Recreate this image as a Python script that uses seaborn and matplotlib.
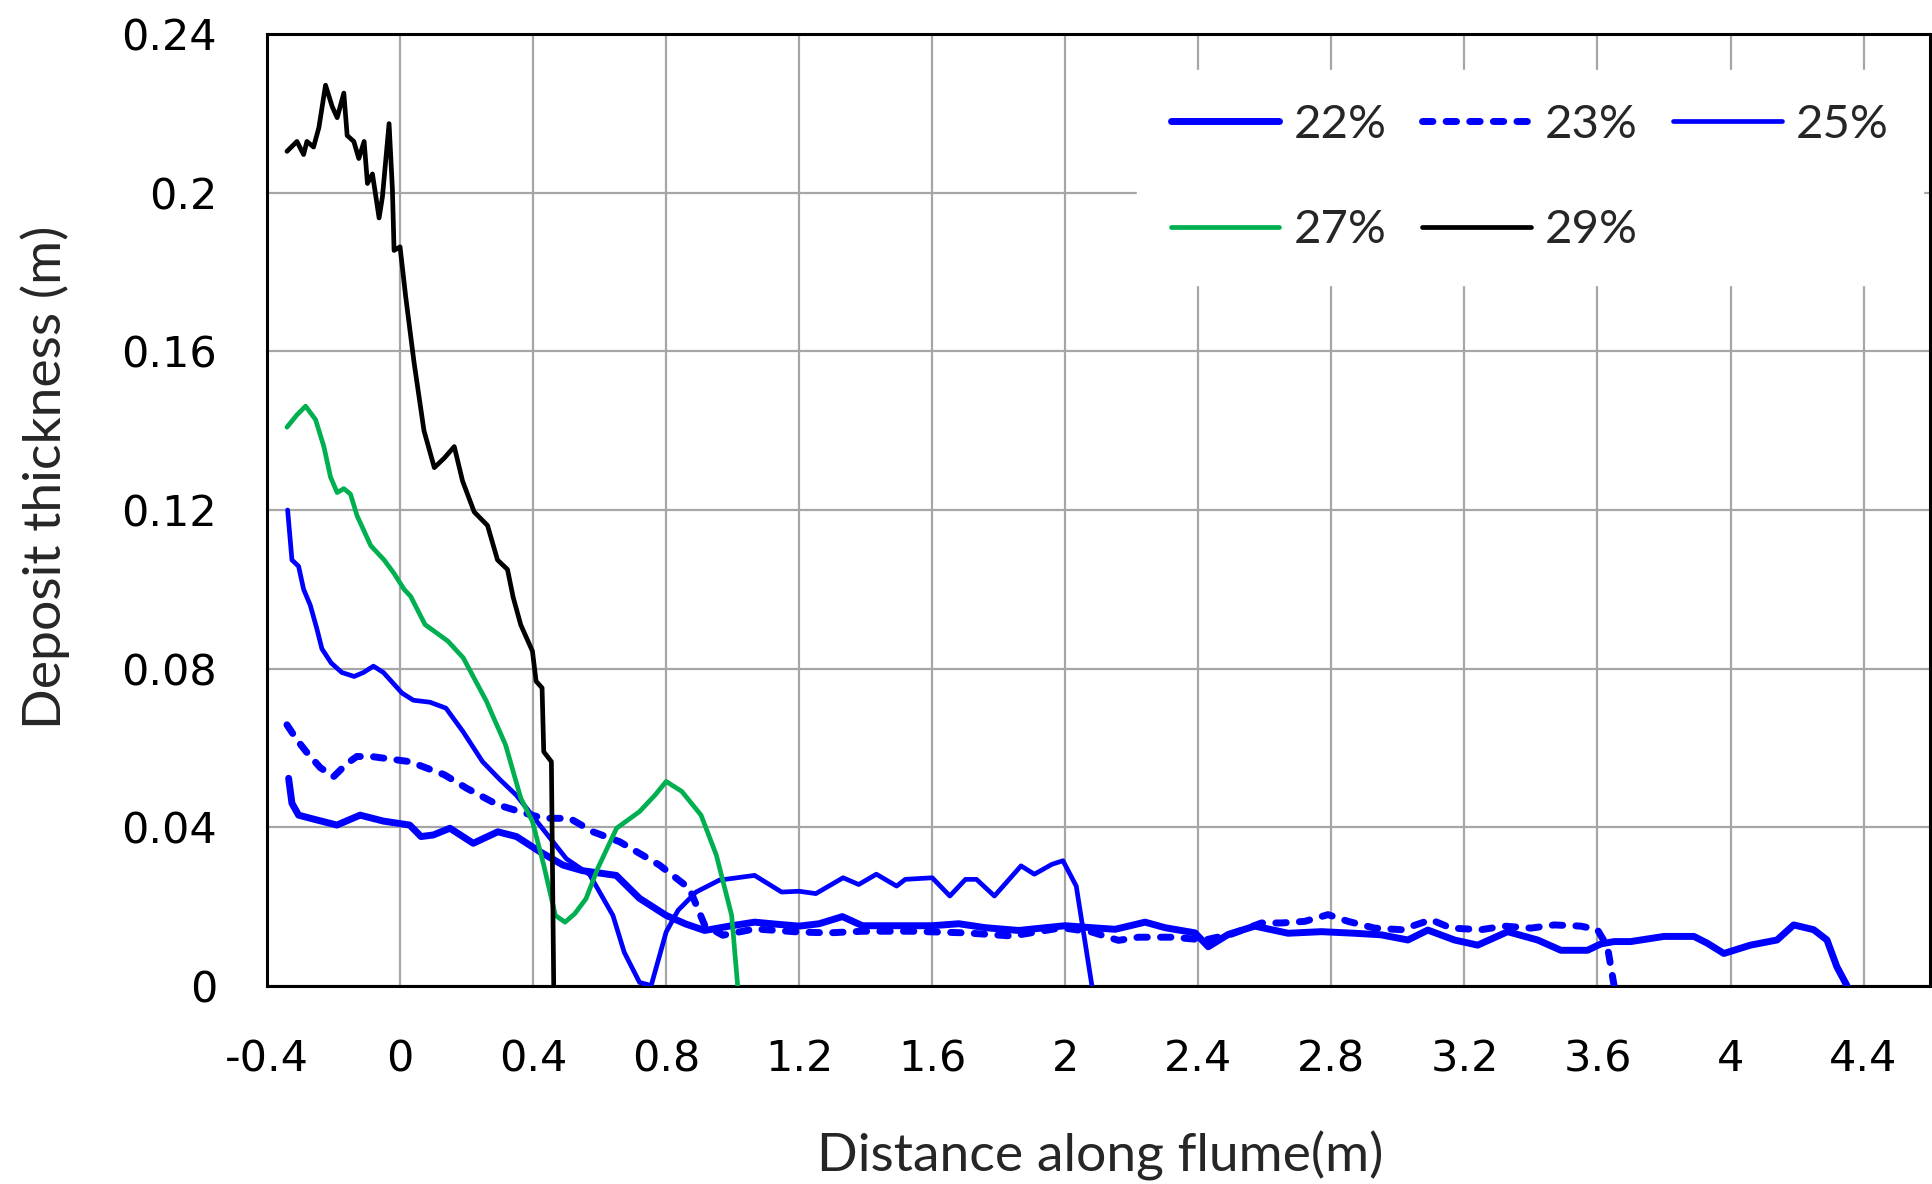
import matplotlib
matplotlib.use("Agg")
import matplotlib.pyplot as plt
import seaborn as sns
import pandas as pd

# ---------------- data ----------------
x22 = [-0.335, -0.325, -0.305, -0.26, -0.19, -0.12, -0.05, 0.029, 0.063, 0.10, 0.15, 0.22, 0.294, 0.35,
       0.42, 0.49, 0.548, 0.65, 0.72, 0.80, 0.86, 0.916, 0.99, 1.066, 1.13, 1.2, 1.26, 1.33, 1.39, 1.47,
       1.6, 1.68, 1.76, 1.86, 1.94, 2.0, 2.08, 2.15, 2.24, 2.3, 2.39, 2.43, 2.49, 2.57, 2.67, 2.77, 2.87,
       2.95, 3.03, 3.09, 3.17, 3.24, 3.33, 3.42, 3.49, 3.57, 3.61, 3.65, 3.7, 3.8, 3.89, 3.93, 3.98, 4.06,
       4.14, 4.19, 4.25, 4.29, 4.32, 4.35]
y22 = [0.0523, 0.046, 0.043, 0.042, 0.0405, 0.043, 0.0415, 0.0405, 0.0376, 0.038, 0.0397, 0.0359, 0.0388,
       0.0376, 0.0338, 0.0304, 0.029, 0.0278, 0.022, 0.0177, 0.0155, 0.0139, 0.015, 0.016, 0.0155, 0.015,
       0.0156, 0.0174, 0.0151, 0.0151, 0.0151, 0.0156, 0.0146, 0.0139, 0.0146, 0.0151, 0.0146, 0.0142,
       0.016, 0.0146, 0.0133, 0.0098, 0.0129, 0.0150, 0.0132, 0.0136, 0.0132, 0.0128, 0.0115, 0.0140,
       0.0115, 0.0102, 0.0136, 0.0115, 0.0089, 0.0089, 0.0105, 0.0111, 0.0111, 0.0124, 0.0124, 0.0107,
       0.0081, 0.0102, 0.0115, 0.0153, 0.0141, 0.0115, 0.0047, 0.0]

x23 = [-0.34, -0.31, -0.282, -0.24, -0.2, -0.16, -0.13, -0.086, 0.029, 0.133, 0.2, 0.294, 0.36, 0.43,
       0.51, 0.58, 0.66, 0.78, 0.87, 0.916, 0.97, 1.066, 1.2, 1.29, 1.39, 1.54, 1.70, 1.84, 1.99, 2.08,
       2.16, 2.22, 2.32, 2.42, 2.5, 2.59, 2.65, 2.72, 2.79, 2.85, 2.93, 3.01, 3.1, 3.16, 3.25, 3.32, 3.40,
       3.47, 3.55, 3.6, 3.63, 3.65]
y23 = [0.0658, 0.062, 0.059, 0.055, 0.0527, 0.056, 0.0578, 0.0578, 0.0565, 0.0532, 0.0498, 0.0456,
       0.0439, 0.0422, 0.0422, 0.0388, 0.0363, 0.0304, 0.0245, 0.0152, 0.0127, 0.0143, 0.0135, 0.0133,
       0.0137, 0.0137, 0.0133, 0.0125, 0.0146, 0.0135, 0.0114, 0.0122, 0.0122, 0.0115, 0.013, 0.0158,
       0.0158, 0.0162, 0.0179, 0.0162, 0.0145, 0.0141, 0.0166, 0.0145, 0.0141, 0.0150, 0.0145, 0.0153,
       0.0150, 0.0141, 0.0098, 0.0]

x25 = [-0.338, -0.325, -0.305, -0.29, -0.27, -0.25, -0.235, -0.207, -0.175, -0.138, -0.11, -0.08, -0.05,
       0.006, 0.04, 0.09, 0.138, 0.19, 0.248, 0.30, 0.35, 0.42, 0.50, 0.57, 0.64, 0.674, 0.72, 0.755,
       0.80, 0.836, 0.89, 0.96, 1.066, 1.147, 1.2, 1.25, 1.332, 1.379, 1.432, 1.493, 1.519, 1.6, 1.653,
       1.70, 1.733, 1.787, 1.867, 1.907, 1.96, 1.993, 2.033, 2.08]
y25 = [0.12, 0.1074, 0.1058, 0.10, 0.096, 0.090, 0.085, 0.0814, 0.079, 0.078, 0.079, 0.0806, 0.079,
       0.0738, 0.072, 0.0715, 0.070, 0.064, 0.0565, 0.052, 0.048, 0.0405, 0.032, 0.028, 0.0177, 0.0084,
       0.0008, 0.0, 0.0135, 0.019, 0.0236, 0.0266, 0.0278, 0.0236, 0.0238, 0.0232, 0.0272, 0.0255,
       0.0281, 0.0251, 0.0268, 0.0272, 0.0226, 0.0268, 0.0268, 0.0226, 0.0302, 0.0281, 0.0306, 0.0315,
       0.0251, 0.0]

x27 = [-0.34, -0.31, -0.284, -0.254, -0.229, -0.209, -0.189, -0.169, -0.149, -0.129, -0.088, -0.048,
       -0.018, 0.012, 0.032, 0.075, 0.144, 0.19, 0.26, 0.277, 0.317, 0.363, 0.398, 0.432, 0.467, 0.496,
       0.525, 0.559, 0.594, 0.651, 0.72, 0.767, 0.80, 0.847, 0.905, 0.951, 0.997, 1.015]
y27 = [0.1409, 0.144, 0.1462, 0.1428, 0.136, 0.1283, 0.1244, 0.1254, 0.124, 0.1185, 0.111, 0.1074,
       0.104, 0.100, 0.0982, 0.0911, 0.0869, 0.0827, 0.0717, 0.0684, 0.0608, 0.0473, 0.0414, 0.0304,
       0.0177, 0.016, 0.0181, 0.0219, 0.0295, 0.0397, 0.0439, 0.0481, 0.0515, 0.049, 0.043, 0.0329,
       0.0177, 0.0]

x29 = [-0.34, -0.31, -0.29, -0.28, -0.26, -0.244, -0.224, -0.204, -0.189, -0.169, -0.159, -0.139,
       -0.124, -0.108, -0.098, -0.083, -0.063, -0.053, -0.033, -0.023, -0.018, 0.0, 0.017, 0.042,
       0.072, 0.103, 0.133, 0.163, 0.188, 0.223, 0.263, 0.293, 0.323, 0.34, 0.363, 0.398, 0.409,
       0.427, 0.432, 0.455, 0.462]
y29 = [0.2105, 0.213, 0.2097, 0.213, 0.2116, 0.2165, 0.2272, 0.2218, 0.219, 0.2252, 0.2145, 0.213,
       0.2087, 0.213, 0.2024, 0.2048, 0.1937, 0.199, 0.2175, 0.201, 0.1855, 0.1864, 0.1738, 0.1573,
       0.140, 0.1307, 0.1331, 0.136, 0.1273, 0.1195, 0.1161, 0.1074, 0.105, 0.098, 0.091, 0.0844,
       0.0768, 0.0751, 0.059, 0.0565, 0.0]

labels = ["22%", "23%", "25%", "27%", "29%"]
xticks = [-0.4, 0, 0.4, 0.8, 1.2, 1.6, 2, 2.4, 2.8, 3.2, 3.6, 4, 4.4]
yticks = [0, 0.04, 0.08, 0.12, 0.16, 0.2, 0.24]
xtick_labels = ["-0.4", "0", "0.4", "0.8", "1.2", "1.6", "2", "2.4", "2.8", "3.2", "3.6", "4", "4.4"]
ytick_labels = ["0", "0.04", "0.08", "0.12", "0.16", "0.2", "0.24"]

# ---------------- styling ----------------
sns.set_theme(style="white")
plt.rcParams["font.family"] = ["DejaVu Sans"]
plt.rcParams["axes.unicode_minus"] = False

fig = plt.figure(figsize=(19.32, 11.84), dpi=100)
ax = fig.add_axes([0.1382, 0.1676, 0.8608, 0.8033])

blue = "#0000FF"
styles = {
    "22%": dict(color=blue, lw=5.0, ls="-"),
    "23%": dict(color=blue, lw=5.0, ls=(0, (1.5, 1.9))),
    "25%": dict(color=blue, lw=3.4, ls="-"),
    "27%": dict(color="#00B050", lw=3.4, ls="-"),
    "29%": dict(color="black", lw=3.4, ls="-"),
}
series = {"22%": (x22, y22), "23%": (x23, y23), "25%": (x25, y25),
          "27%": (x27, y27), "29%": (x29, y29)}

handles = {}
for lab in labels:
    xs, ys = series[lab]
    df = pd.DataFrame({"x": xs, "y": ys})
    st = styles[lab]
    sns.lineplot(data=df, x="x", y="y", ax=ax, sort=False, estimator=None,
                 color=st["color"], label=lab, zorder=3)
    line = ax.get_lines()[-1]
    line.set_linewidth(st["lw"])
    line.set_linestyle(st["ls"])
    line.set_solid_joinstyle("round")
    line.set_solid_capstyle("round")
    if lab == "23%":
        line.set_dash_capstyle("round")
    handles[lab] = line

ax.set_xlim(-0.4, 4.6)
ax.set_ylim(0, 0.24)
ax.set_xticks(xticks)
ax.set_xticklabels(xtick_labels)
ax.set_yticks(yticks)
ax.set_yticklabels(ytick_labels)
ax.tick_params(axis="both", length=0, labelsize=31, colors="black")
ax.tick_params(axis="x", pad=38)
ax.tick_params(axis="y", pad=36)

ax.grid(True, color="#A6A6A6", lw=1.6, zorder=0)
ax.set_axisbelow(True)
for sp in ax.spines.values():
    sp.set_color("black")
    sp.set_linewidth(2.2)

lab_font = ["Lato", "DejaVu Sans"]
ax.set_xlabel("Distance along flume(m)", fontsize=38.5, family=lab_font)
ax.set_ylabel("Deposit thickness (m)", fontsize=38.5, family=lab_font)
ax.xaxis.set_label_coords(0.501, -0.179)
ax.xaxis.label.set_va("center")
ax.yaxis.set_label_coords(-0.1335, 0.534)
ax.yaxis.label.set_va("center")

order = ["22%", "27%", "23%", "29%", "25%"]
leg = ax.legend([handles[k] for k in order], order, ncol=3, loc="upper left",
                bbox_to_anchor=(0.523, 0.963), borderaxespad=0, frameon=True,
                prop={"family": lab_font, "size": 34},
                handlelength=2.3, handletextpad=0.3, columnspacing=0.75,
                labelspacing=1.35, borderpad=0.72, fancybox=False)
leg.get_frame().set_facecolor("white")
leg.get_frame().set_edgecolor("white")
leg.get_frame().set_alpha(1)
leg.set_zorder(5)

fig.savefig("out.png", dpi=100)
